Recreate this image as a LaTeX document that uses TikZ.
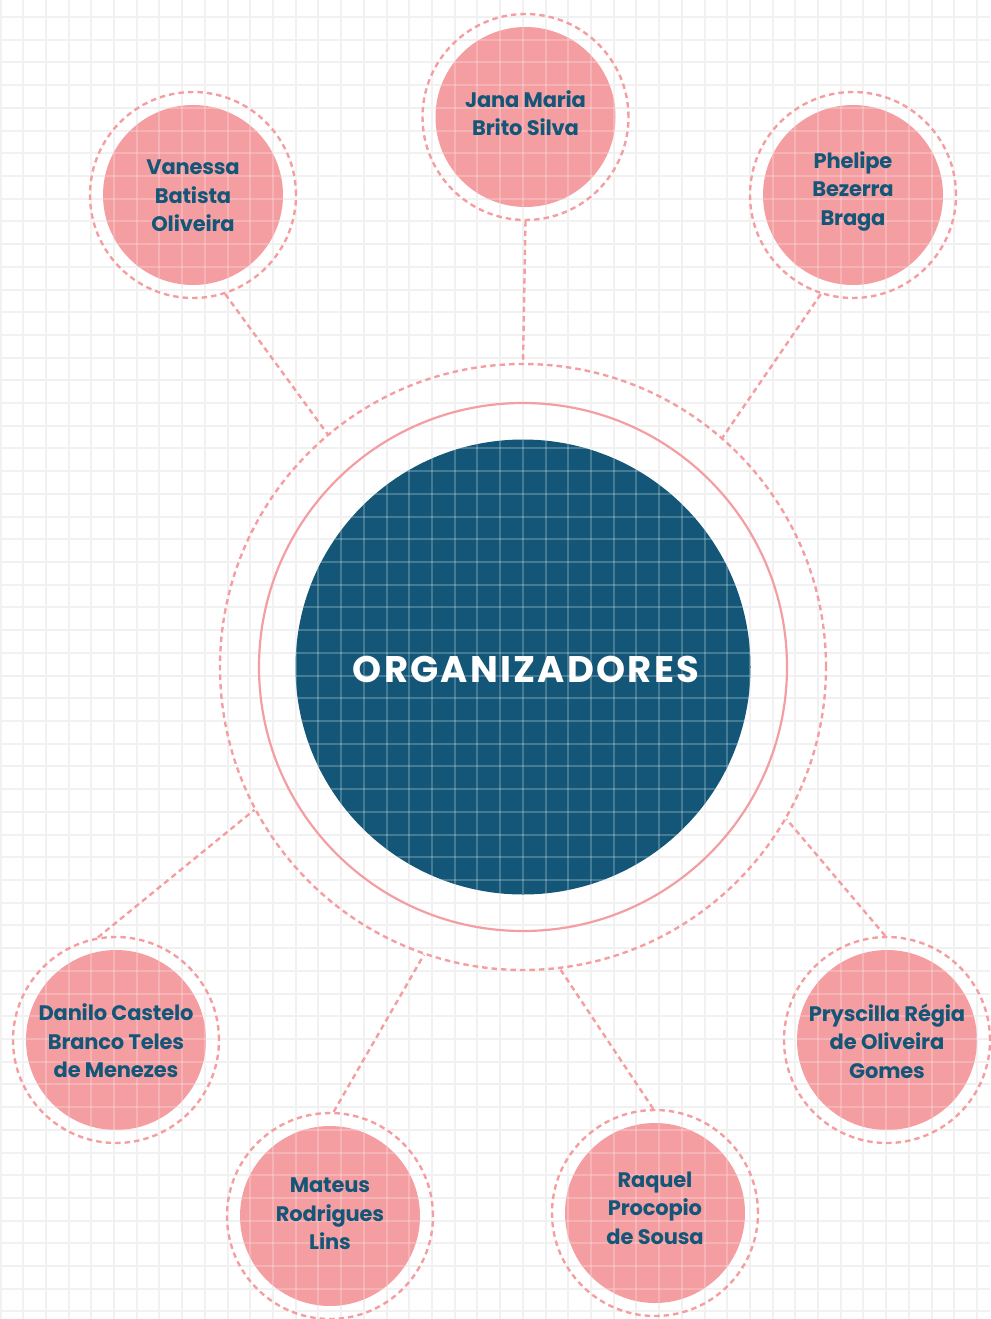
\documentclass[tikz,border=0pt]{standalone}
\usepackage{fontspec}
\newfontfamily\pop{Poppins}[UprightFont=* SemiBold, BoldFont=* Bold]
\definecolor{navy}{HTML}{135677}
\definecolor{rose}{HTML}{F49EA2}
\definecolor{gridgray}{HTML}{F1F1F1}

\begin{document}
\begin{tikzpicture}[x=1pt,y=-1pt,
  dashline/.style={draw=rose, line width=2.4pt, dash pattern=on 5.5pt off 4pt},
  halo/.style={circle, dashline, minimum size=206pt, inner sep=0pt},
  dot/.style={circle, fill=rose, minimum size=180pt, inner sep=0pt},
  label/.style={text=navy, align=center, inner sep=0pt,
    font=\pop\bfseries\fontsize{21}{28.5}\selectfont\addfontfeatures{LetterSpace=-0.8}},
  link/.style={dashline},
  gridline/.style={line width=2pt}
]
\useasboundingbox (0,0) rectangle (990,1319);

% background grid
\foreach \i in {0,...,43}
  \draw[gridline, gridgray] ({0.5+22.71*\i},0) -- ++(0,1319);
\foreach \j in {0,...,57}
  \draw[gridline, gridgray] (0,{17+22.71*\j}) -- ++(990,0);

% central hub
\node[circle, dashline, minimum size=606pt, inner sep=0pt] (outer) at (523,667) {};
\node[circle, draw=rose, line width=2.2pt, minimum size=528pt, inner sep=0pt] (band) at (523,667) {};
\node[circle, fill=navy, minimum size=455pt, inner sep=0pt] (core) at (523,667) {};

% members: dashed halo and filled disc
\foreach \n/\x/\y in {v/193/195, j/525.5/117, p/853/195, d/116/1040,
                       m/330/1216, r/655/1213, g/887/1040} {
  \node[halo] (\n) at (\x,\y) {};
  \node[dot] (\n-dot) at (\x,\y) {};
}

% connectors from each halo to the hub
\draw[link] (v.-72)   -- (outer.130.3);
\draw[link] (j.south) -- (outer.north);
\draw[link] (p.-108)  -- (outer.49.9);
\draw[link] (d.100.5) -- (outer.208.3);
\draw[link] (m.88.3)  -- (outer.251.6);
\draw[link] (r.91.7)  -- (outer.277.4);
\draw[link] (g.91)    -- (outer.330.8);

% light grid showing through the filled discs
\begin{scope}
  \clip (core.center) circle (227.5)
        (v-dot.center) circle (90) (j-dot.center) circle (90)
        (p-dot.center) circle (90) (d-dot.center) circle (90)
        (m-dot.center) circle (90) (r-dot.center) circle (90)
        (g-dot.center) circle (90);
  \foreach \i in {0,...,43}
    \draw[gridline, white, opacity=0.22] ({0.5+22.71*\i},0) -- ++(0,1319);
  \foreach \j in {0,...,57}
    \draw[gridline, white, opacity=0.22] (0,{17+22.71*\j}) -- ++(990,0);
\end{scope}

% texts
\node[text=white, inner sep=0pt, font=\pop\bfseries\fontsize{37}{40}\selectfont\addfontfeatures{LetterSpace=6}] (title) at (526,669) {ORGANIZADORES};
\node[label] (v-name) at (193,196) {Vanessa\\Batista\\Oliveira};
\node[label] (j-name) at (525.5,113) {Jana Maria\\Brito Silva};
\node[label] (p-name) at (853,191) {Phelipe\\Bezerra\\Braga};
\node[label] (d-name) at (116,1041) {Danilo Castelo\\Branco Teles\\de Menezes};
\node[label] (m-name) at (330,1214) {Mateus\\Rodrigues\\Lins};
\node[label] (r-name) at (655,1208) {Raquel\\Procopio\\de Sousa};
\node[label] (g-name) at (887,1041) {Pryscilla Régia\\de Oliveira\\Gomes};
\end{tikzpicture}
\end{document}
